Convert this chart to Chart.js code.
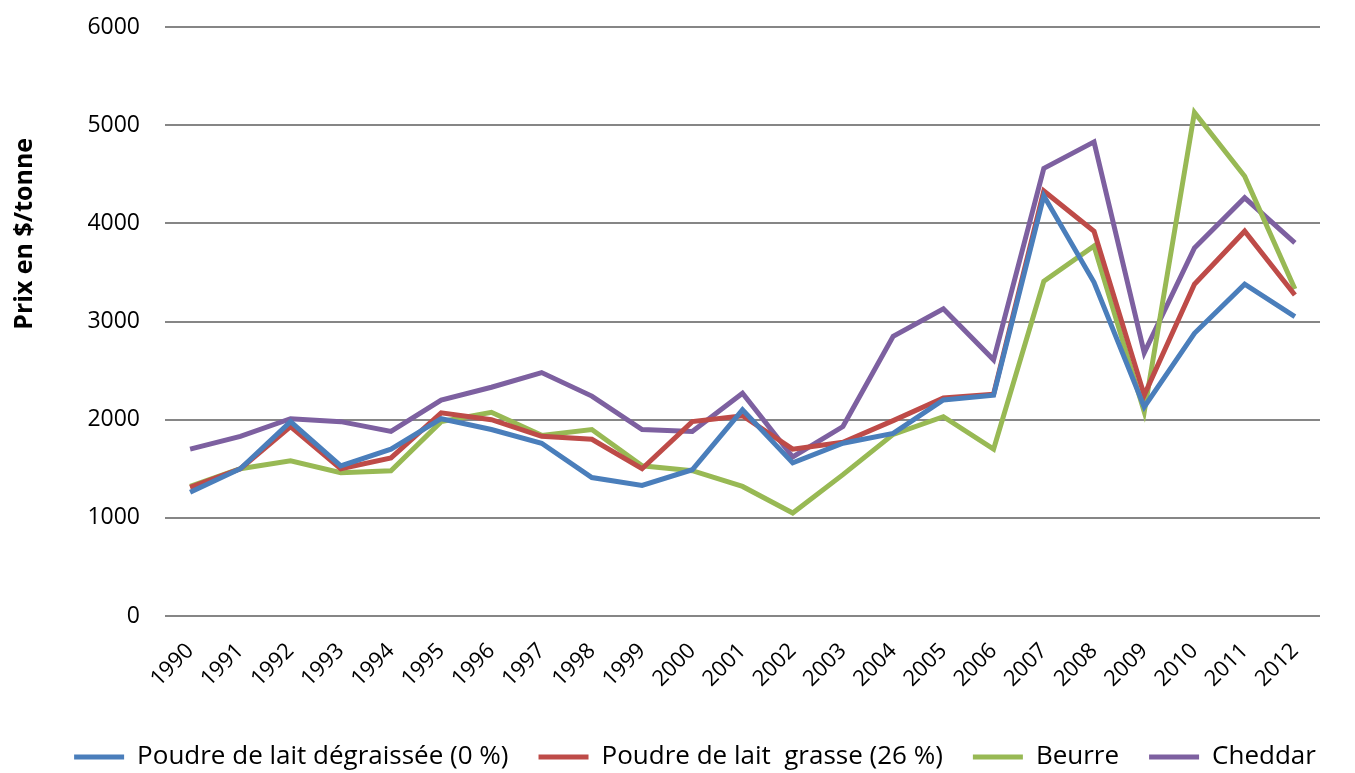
<!DOCTYPE html>
<html lang="fr">
<head>
    <meta charset="UTF-8">
    <title>Prix des produits laitiers</title>
    <script src="https://cdn.jsdelivr.net/npm/chart.js"></script>
    <style>
        body { margin: 0; background: #fff; }
        #wrap { width: 1355px; height: 773px; }
    </style>
</head>
<body>
    <div id="wrap">
        <canvas id="myChart"></canvas>
    </div>
    <script>
        const annees = ['1990', '1991', '1992', '1993', '1994', '1995', '1996', '1997', '1998', '1999', '2000', '2001',
            '2002', '2003', '2004', '2005', '2006', '2007', '2008', '2009', '2010', '2011', '2012'];

        const poudreDegraissee = [1260, 1500, 1980, 1530, 1700, 2010, 1900, 1760, 1410, 1330, 1490, 2100,
            1560, 1760, 1860, 2200, 2250, 4280, 3400, 2130, 2880, 3380, 3050];
        const poudreGrasse = [1310, 1500, 1930, 1500, 1610, 2070, 2000, 1830, 1800, 1500, 1980, 2040,
            1700, 1770, 1990, 2220, 2260, 4330, 3920, 2250, 3380, 3920, 3270];
        const beurre = [1320, 1500, 1580, 1460, 1480, 1980, 2075, 1840, 1900, 1530, 1480, 1320,
            1050, 1440, 1850, 2030, 1700, 3410, 3770, 2080, 5130, 4480, 3330];
        const cheddar = [1700, 1830, 2010, 1980, 1880, 2200, 2330, 2480, 2240, 1900, 1880, 2270,
            1620, 1930, 2850, 3130, 2610, 4560, 4830, 2680, 3750, 4260, 3800];

        const series = [
            { label: 'Poudre de lait dégraissée (0 %)', data: poudreDegraissee, color: '#4A7EBB' },
            { label: 'Poudre de lait  grasse (26 %)', data: poudreGrasse, color: '#BE4B48' },
            { label: 'Beurre', data: beurre, color: '#98B954' },
            { label: 'Cheddar', data: cheddar, color: '#7D60A0' }
        ];

        const police = "'Open Sans', 'DejaVu Sans', sans-serif";

        // la légende est un peu décalée vers la droite dans l'original
        const decaleLegende = {
            id: 'decaleLegende',
            afterLayout(chart) {
                chart.legend.left += 30;
                chart.legend.right += 30;
            }
        };

        new Chart(document.getElementById('myChart'), {
            type: 'line',
            data: {
                labels: annees,
                datasets: series.map(s => ({
                    label: s.label,
                    data: s.data,
                    borderColor: s.color,
                    backgroundColor: s.color,
                    borderWidth: 5,
                    pointRadius: 0,
                    tension: 0,
                    pointStyle: 'line'
                }))
            },
            plugins: [decaleLegende],
            options: {
                responsive: true,
                maintainAspectRatio: false,
                animation: false,
                layout: { padding: { top: 27, right: 35, left: 10, bottom: -7 } },
                plugins: {
                    tooltip: { enabled: false },
                    legend: {
                        position: 'bottom',
                        labels: {
                            usePointStyle: true,
                            pointStyleWidth: 50,
                            padding: 30,
                            color: '#000',
                            font: { family: police, size: 26 }
                        }
                    }
                },
                scales: {
                    x: {
                        offset: true,
                        grid: { display: false },
                        border: { display: false },
                        ticks: {
                            color: '#000',
                            font: { family: police, size: 22 },
                            maxRotation: 45,
                            minRotation: 45,
                            padding: 14
                        },
                        afterFit: (scale) => { scale.height = 98; }
                    },
                    y: {
                        min: 0,
                        max: 6000,
                        ticks: {
                            stepSize: 1000,
                            color: '#000',
                            font: { family: police, size: 23 },
                            padding: 4,
                            callback: (v) => String(v)
                        },
                        grid: {
                            color: '#868686',
                            lineWidth: 2,
                            drawTicks: true,
                            tickLength: 21,
                            tickColor: 'rgba(0,0,0,0)'
                        },
                        border: { display: false },
                        title: {
                            display: true,
                            text: ' '.repeat(27) + 'Prix en $/tonne',
                            color: '#000',
                            font: { family: police, size: 25, weight: 'bold' },
                            padding: { top: 0, bottom: 16 }
                        },
                        afterFit: (scale) => { scale.width = 155; }
                    }
                }
            }
        });
    </script>
</body>
</html>
